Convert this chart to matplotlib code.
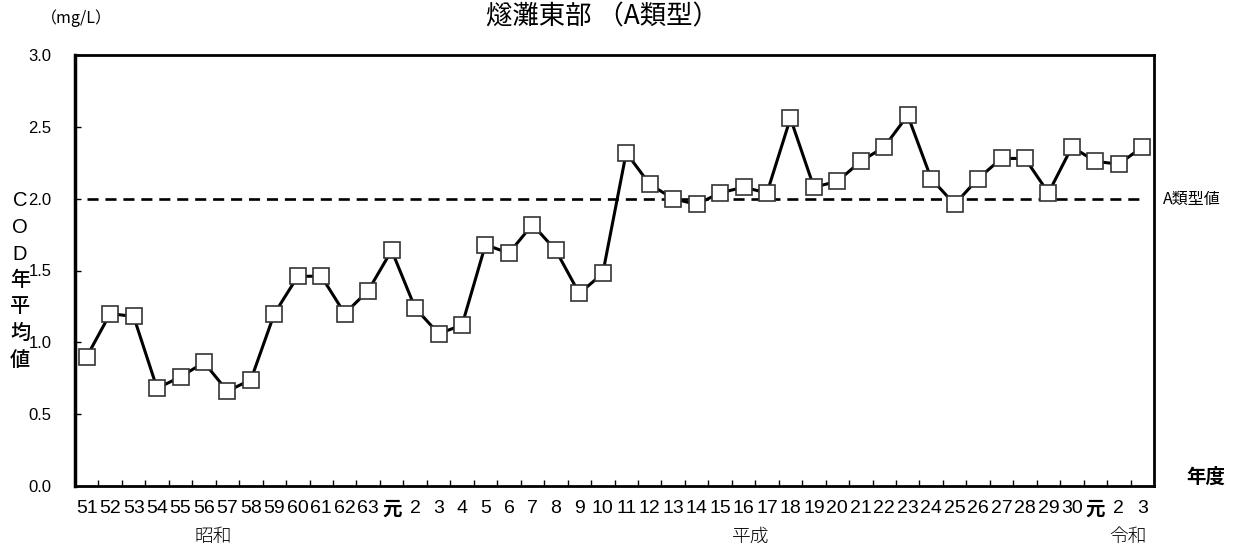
import matplotlib
matplotlib.use("Agg")
import matplotlib.pyplot as plt
from matplotlib.ticker import FixedLocator

# ---- data ----
showa_years = ["51", "52", "53", "54", "55", "56", "57", "58", "59", "60", "61", "62", "63"]
heisei_years = ["元"] + [str(i) for i in range(2, 31)]
reiwa_years = ["元", "2", "3"]
tick_labels = showa_years + heisei_years + reiwa_years

cod_values = [0.90, 1.20, 1.18, 0.68, 0.76, 0.86, 0.66, 0.74, 1.20, 1.46, 1.46, 1.20, 1.36,
              1.64, 1.24, 1.06, 1.12, 1.68, 1.62, 1.82, 1.64, 1.34, 1.48, 2.32, 2.10, 2.00,
              1.96, 2.04, 2.08, 2.04, 2.56, 2.08, 2.12, 2.26, 2.36, 2.58, 2.14, 1.96, 2.14,
              2.28, 2.28, 2.04, 2.36, 2.26, 2.24, 2.36]
standard_value = 2.0
y_ticks = [0, 0.5, 1.0, 1.5, 2.0, 2.5, 3.0]
era_names = ["昭和", "平成", "令和"]

CJK = "Noto Sans CJK JP"
plt.rcParams["font.family"] = ["Liberation Sans", CJK]

W, H = 1236, 556
fig = plt.figure(figsize=(W / 100, H / 100), dpi=100)
L, R, T, B = 75, 1154, 55, 486
ax = fig.add_axes([L / W, 1 - B / H, (R - L) / W, (B - T) / H])

n = len(cod_values)
x = list(range(n))

ax.plot(x, [standard_value] * n, color="black", lw=1.9, dashes=(4.2, 2.6), zorder=2)
ax.plot(x, cod_values, color="black", lw=2.2, marker="s", markersize=11.5,
        markerfacecolor="white", markeredgecolor="#333333", markeredgewidth=1.2, zorder=3)

ax.set_xlim(-0.5, n - 0.5)
ax.set_ylim(0, 3.0)
ax.set_yticks(y_ticks)
ax.set_yticklabels([f"{v:.1f}" for v in y_ticks], fontsize=12,
                   family=["Liberation Sans", CJK])
ax.tick_params(axis="y", direction="in", length=4, width=1, pad=17)

ax.set_xticks(x)
ax.set_xticklabels(tick_labels, fontsize=14,
                   family=["Liberation Sans Narrow", "Liberation Sans", CJK])
for lbl in ax.get_xticklabels():
    if lbl.get_text() == "元":
        lbl.set_fontsize(14)
        lbl.set_family([CJK])
        lbl.set_fontweight("bold")
ax.tick_params(axis="x", which="major", length=0, pad=10)
ax.xaxis.set_minor_locator(FixedLocator([i + 0.5 for i in range(n - 1)]))
ax.tick_params(axis="x", which="minor", direction="in", length=4, width=1)

for side in ["top", "right", "bottom"]:
    ax.spines[side].set_linewidth(2.0)
ax.spines["left"].set_linewidth(2.5)

# texts
fig.text(602 / W, 1 - 17 / H, "燧灘東部 （A類型）", ha="center", va="center",
         fontsize=19, family=[CJK])
fig.text(76 / W, 1 - 18 / H, "（mg/L）", ha="center", va="center",
         fontsize=11.5, family=[CJK])
ylab = "COD年平均値"
for i, ch in enumerate(ylab):
    fig.text(20 / W, 1 - (201 + i * 26.5) / H, ch, ha="center", va="center",
             fontsize=14.5, fontweight="medium",
             family=["Liberation Sans", CJK] if ch.isascii() else [CJK])
fig.text(1163 / W, 1 - 199 / H, "A類型値", ha="left", va="center",
         fontsize=11.5, family=[CJK])
fig.text(1206 / W, 1 - 477 / H, "年度", ha="center", va="center",
         fontsize=14, family=[CJK], fontweight="bold")
for name, xc in zip(era_names, [213, 751, 1128]):
    fig.text(xc / W, 1 - 537 / H, name, ha="center", va="center",
             fontsize=13.5, family=[CJK], fontweight="light")

fig.savefig("out.png", dpi=100)
